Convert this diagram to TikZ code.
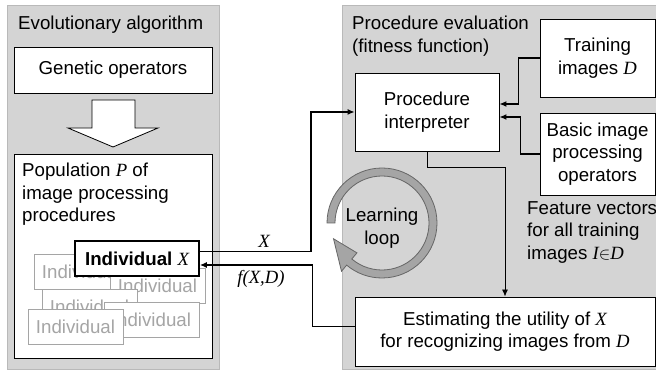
\documentclass[tikz,border=0pt]{standalone}
\usepackage{fontspec}
\setmainfont{Liberation Sans}
\newfontfamily\tms{Liberation Serif}
\usetikzlibrary{arrows.meta, calc}
\definecolor{panelgray}{RGB}{212, 212, 212}
\definecolor{paneledge}{RGB}{185, 185, 185}
\definecolor{ghostgray}{RGB}{165, 165, 165}
\definecolor{loopgray}{RGB}{165, 165, 165}
\newcommand{\mvar}[1]{{\tms\itshape #1}}
\newcommand{\txt}{\fontsize{18.7}{22.5}\selectfont}

\begin{document}
\begin{tikzpicture}[x=1pt, y=-1pt,
  panel/.style={draw=paneledge, fill=panelgray, line width=0.8pt},
  box/.style={draw, fill=white, line width=0.9pt, inner sep=0pt, align=center, font=\txt},
  ghost/.style={draw=ghostgray, fill=white, text=ghostgray, line width=0.8pt,
                minimum width=95pt, minimum height=35pt, inner sep=0pt, font=\txt},
  lbl/.style={inner sep=0pt, font=\txt, align=left},
  link/.style={-{Latex[length=7pt,width=6pt]}, line width=1.2pt},
]
\useasboundingbox (0,0) rectangle (656,371);

% Panels
\path[panel] (7,5) rectangle (219,369);
\path[panel] (342,5) rectangle (658,369);

% Evolutionary algorithm
\node[lbl, anchor=base west] (evotitle) at (18,30) {Evolutionary algorithm};
\node[box, minimum width=198pt, minimum height=46pt] (genop) at (113,70) {Genetic operators};
\draw[fill=white, line width=0.8pt] (92,100) -- (135,100) -- (135,128) -- (158,128)
  -- (113,147) -- (68,128) -- (92,128) -- cycle;
\node[box, minimum width=198pt, minimum height=204pt] (pop) at (113,256) {};
\node[lbl, anchor=north west] (poptext) at (22,163) {Population \mvar{P} of\\image processing\\procedures};

% Population members
\node[ghost] (ind1) at (81.5,272) {Individual};
\node[ghost] (ind2) at (157.5,285.5) {Individual};
\node[ghost] (ind3) at (89.5,306.5) {Individual};
\node[ghost] (ind4) at (151.5,319.5) {Individual};
\node[ghost] (ind5) at (75.5,326.5) {Individual};
\node[box, line width=1.8pt, minimum width=124pt, minimum height=35pt] (indX) at (137,258.5)
  {\textbf{Individual} \mvar{X}};

% Procedure evaluation
\node[lbl, anchor=north west] (evaltitle) at (352,16) {Procedure evaluation\\(fitness function)};
\node[box, minimum width=115pt, minimum height=78pt] (train) at (597.5,58) {Training\\images \mvar{D}};
\node[box, minimum width=115pt, minimum height=82pt] (basic) at (597.5,154) {Basic image\\processing\\operators};
\node[box, minimum width=144pt, minimum height=78pt] (interp) at (427,112) {Procedure\\interpreter};
\node[box, minimum width=300pt, minimum height=69pt] (est) at (505,331.5)
  {Estimating the utility of \mvar{X}\\for recognizing images from \mvar{D}};
\node[lbl, anchor=north west] (feat) at (527,201) {Feature vectors\\for all training\\images \mvar{I}$\in$\mvar{D}};

% Learning loop
\coordinate (loopc) at (382,223);
\draw[draw=black!60, fill=loopgray, line width=0.8pt]
  ($(loopc)+(180:55)$) arc[start angle=180, end angle=490, radius=55]
  -- ($(loopc)+(490:63)$) -- ($(loopc)+(522:51)$) -- ($(loopc)+(490:39)$)
  -- ($(loopc)+(490:47)$) arc[start angle=490, end angle=180, radius=47] -- cycle;
\node[lbl, align=center] (looptxt) at (382,228) {Learning\\loop};

% Connectors
\draw[link] ([yshift=7pt]indX.east) -- ++(111,0) |- (interp.west);
\draw[link] ([yshift=5pt]est.west) -- ++(-42,0) |- ([yshift=-6.5pt]indX.east);
\draw[link] (train.west) -- ++(-21,0) |- ([yshift=8pt]interp.east);
\draw[link] (basic.west) -- ++(-19,0) |- ([yshift=-5pt]interp.east);
\draw[link, line width=0.9pt] (interp.south) -- ++(0,16) -| (est.north);
\node[lbl] (xlbl) at (264,241) {\mvar{X}};
\node[lbl] (flbl) at (261,279) {\mvar{f(X,D)}};
\end{tikzpicture}
\end{document}
